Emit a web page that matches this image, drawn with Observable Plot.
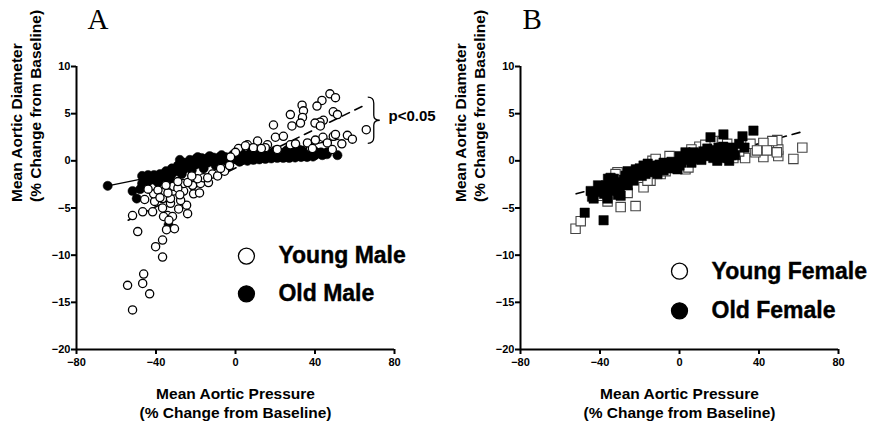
<!DOCTYPE html>
<html>
<head>
<meta charset="utf-8">
<script src="https://cdn.jsdelivr.net/npm/d3@7"></script>
<script src="https://cdn.jsdelivr.net/npm/@observablehq/plot@0.6"></script>
<style>
  html, body { margin: 0; padding: 0; background: #fff; }
  #wrap { display: flex; width: 880px; height: 425px; }
  #wrap svg { display: block; }
</style>
</head>
<body>
<div id="wrap"></div>
<script>
// ---------- data (x: % change MAP, y: % change diameter) ----------
const xTicks = [-80, -40, 0, 40, 80];
const yTicks = [-20, -15, -10, -5, 0, 5, 10];

const youngMale = [
  [65.8,3.3],[47.5,7.1],[50.3,6.7],[43.5,6.4],[41,5.8],[33.5,5.9],[34.2,5.3],[27.6,4.9],[33.7,4.6],[32.7,4.0],
  [28.4,3.7],[19.1,3.8],[49.2,5.2],[51.3,4.9],[44.2,4.3],[42.5,4.1],[40,4.0],[42.7,3.7],[56.3,2.7],[58.8,2.3],
  [49.2,2.6],[44,2.5],[40.2,2.2],[53.5,1.8],[20.1,2.5],[24.1,2.6],[27.6,1.7],[16.1,1.7],[11.1,2.1],[6,1.7],
  [1.5,1.3],[46.2,1.9],[37.7,1.4],[48.7,1.2],[30.2,1.8],[36.2,1.9],[38.7,1.3],[50.3,2.8],[15,1.4],[5,1.6],
  [9,1.4],[0,0.9],[-2.5,0.4],[21,1.2],[13,1.3],
  [-51.8,-15.8],[-54.3,-13.2],[-46.7,-13.0],[-43.2,-14.1],[-46.2,-12.0],[-36.7,-10.2],[-40.2,-9.1],[-36.7,-8.4],
  [-49.2,-7.5],[-51.8,-5.8],[-34.7,-7.3],[-30.7,-7.2],[-34.2,-5.8],[-31.7,-5.9],[-36.2,-5.9],[-33.5,-6.3],
  [-24.1,-5.6],[-24.6,-4.7],[-28.6,-5.1],[-32.7,-4.5],[-36.7,-5.0],[-41.7,-5.4],[-46.7,-5.4],[-45.7,-4.1],
  [-40.7,-4.3],[-36.7,-4.0],[-32.7,-4.0],[-27.6,-4.2],[-36.7,-3.3],[-31.2,-3.2],[-26.1,-3.2],[-21.1,-3.5],
  [-18.1,-3.4],[-21.6,-2.6],[-26.1,-2.4],[-17.6,-2.4],[-16.1,-1.8],[-11.6,-1.4],[-9,-1.6],[-5.5,-1.1],
  [-13.6,-2.3],[-31.2,-2.7],[-41.2,-3.5],[-19.1,-1.9],[-44,-3.0],[-39,-3.1],[-34,-3.4],[-29,-2.9],[-24,-2.3],
  [-28,-3.6],[-38,-3.9],[-14,-1.8],[-7.5,-0.8],[-3,-0.5],[-22,-1.6],[-29,-2.2],[-35,-2.6]
];

const oldMale = [
  [-64.3,-2.65],[-51.8,-3.2],[-49.7,-4.0],[-33.7,-6.8],
  [-47,-1.6],[-47,-2.4],[-45.5,-2.0],[-44,-1.5],[-44,-2.2],[-42.5,-1.8],[-41,-1.5],[-41,-2.0],[-39.5,-1.7],
  [-38,-1.4],[-38,-1.9],[-36.5,-1.5],[-35,-1.1],[-35,-1.7],[-33.5,-1.3],[-32,-0.8],[-32,-1.4],[-30.5,-1.0],
  [-29,-0.5],[-29,-1.1],[-27.5,-0.7],[-26,-0.2],[-26,-0.9],[-24.5,-0.4],[-23,0.1],[-23,-0.6],[-21.5,-0.2],
  [-20,0.2],[-20,-0.4],[-18.5,0.0],[-17,0.3],[-17,-0.3],[-15.5,0.0],[-14,0.3],[-14,-0.2],[-12.5,0.1],
  [-11,0.35],[-11,-0.1],[-9.5,0.15],[-8,0.4],[-8,0.0],[-6.5,0.2],[-5,0.4],[-5,0.0],[-3.5,0.2],[-2,0.45],
  [-2,0.05],[-0.5,0.25],[1,0.5],[1,0.1],[2.5,0.3],[4,0.6],[4,0.2],[5.5,0.4],[7,0.7],[7,0.3],[8.5,0.5],
  [10,0.75],[10,0.35],[11.5,0.55],[13,0.8],[13,0.4],[14.5,0.6],[16,0.85],[16,0.4],[17.5,0.65],[19,0.9],
  [19,0.45],[20.5,0.7],[22,0.9],[22,0.5],[23.5,0.7],[25,0.95],[25,0.5],[26.5,0.75],[28,0.95],[28,0.5],
  [29.5,0.75],[31,1.0],[31,0.55],[32.5,0.8],[34,1.0],[34,0.6],[35.5,0.8],[37,1.0],[37,0.6],[38.5,0.8],
  [40,1.0],[40,0.6],[41.5,0.8],[43,0.9],[43.7,0.6],[46,0.9],[46,0.7],[51.3,0.6],
  [2,-0.1],[6,0.0],[9,0.1],[12,0.15],[15,0.2],[18,0.25],[21,0.3],[24,0.3],[27,0.3],[30,0.35],[33,0.4],
  [36,0.4],[39,0.45],[3,0.8],[8,0.95],[14,1.05],[20,1.1],[26,1.15],[32,1.2],[-10,-0.5],[-16,-0.8],
  [-22,-1.0],[-27,-1.4],[-33,-1.9],[-39,-2.3],[-45,-2.7],[-48,-3.0],[-28,0.1],[-19,0.4],[-13,0.5],
  [-7,0.6],[-1,0.7]
];

const youngFemale = [
  [-52.3,-7.2],[-49.7,-6.4],[-29.6,-4.9],[-22.1,-4.8],[-18.1,-2.8],[-36.2,-4.3],[-31.2,-1.2],[-13.6,0.0],
  [-12,0.2],[3,-0.9],[-14.6,-2.1],[-16.1,-2.1],[-26.1,-3.4],[-37.2,-2.8],[-32.2,-1.4],[-9.5,-1.4],[4.5,-0.7],
  [-20,-1.3],[-41,-3.7],[-7,-1.1],[-5,0.5],
  [57.3,0.2],[61.8,1.4],[49.7,0.5],[49.7,1.2],[49.2,2.2],[46.7,2.1],[42.2,1.9],[42.2,0.4],[38.2,0.9],
  [33,0.3],[35.7,1.8],[27.1,0.3],[16.6,2.1],[21.6,2.1],[30,1.0],[39,1.1],[44,1.1],[49,0.9],[10,1.5],
  [13,1.7],[6,1.2],[24,1.8]
];

const oldFemale = [
  [-47.7,-5.5],[-38.2,-6.3],[-44.7,-3.2],[-43.2,-4.0],[-36.2,-4.0],[-34.7,-1.8],[-29.6,-3.7],[-29.6,-2.3],
  [-32.2,-2.3],[-26.1,-1.1],[-18.1,-0.5],[-23.1,-2.1],[-13.1,-0.5],[-11.1,-1.4],[-8.0,-0.2],[-1.0,-0.9],
  [0,0.5],[4,0.7],[7,0.9],[10.5,0.3],[15.6,2.5],[22.1,2.8],[31.7,2.6],[37.2,3.2],[32.7,1.4],[19.6,1.4],
  [25.6,1.4],[24.6,0.3],[21.6,0.3],[14.1,0.5],[-27.1,-1.6],[-17.1,-1.4],[-9.5,-0.7],
  [-40,-3.2],[-37,-2.6],[-34,-2.8],[-33,-1.9],[-30,-2.9],[-27,-1.6],[-26,-2.6],[-24,-1.2],[-21,-1.4],
  [-20,-0.8],[-17,-1.0],[-15,-0.6],[-14,-1.2],[-10,-0.4],[-6,-0.3],[-4,-0.1],[-3,-0.6],[1,-0.2],
  [2,0.3],[5,0.1],[6,0.4],[8,0.2],[9,0.8],[12,0.6],[12,1.0],[16,0.9],[17,0.3],[18,1.1],[20,0.8],[23,1.0],
  [26,0.6],[27,1.1],[-42,-3.3],[-31,-3.6],[-36,-1.9],
  [-38,-3.5],[-35,-3.2],[-32,-3.0],[-28,-2.0],[-25,-1.8],[-22,-0.9],[-19,-1.6],[-16,-0.3],[-12,-0.9],
  [-8,-1.0],[-5,-0.8],[-2,-0.3],[0,-0.5],[3,0.9],[6,-0.2],[11,0.1],[14,1.3],[19,0.0],[22,1.5],[25,0.0],
  [28,0.6],[30,1.8],[-44,-3.8],[-41,-2.6]
];

// regression fit lines (end points)
const fitYoungMale = [[-54,-6.3],[65,5.9]];
const fitOldMale = [[-64.3,-2.65],[52,2.3]];
const fitYoungFemale = [[-52,-3.5],[62,3.1]];

const panelLabels = ["A", "B"];
const legendA = ["Young Male", "Old Male"];
const legendB = ["Young Female", "Old Female"];
const xTitle = "Mean Aortic Pressure\n(% Change from Baseline)";
const yTitle = "Mean Aortic Diameter\n(% Change from Baseline)";
const sigLabel = "p<0.05";

// ---------- drawing ----------
const SANS = "'Liberation Sans', Arial, Helvetica, sans-serif";
const SERIF = "'Liberation Serif', 'Times New Roman', serif";
const toObj = (arr) => arr.map(([x, y]) => ({x, y}));

function panel({label, marginLeft, marginRight, legend, legendPos, points, extra}) {
  const legendData = legend.map((t, i) => ({t, x: legendPos.x, y: legendPos.y[i], filled: i === 1}));
  return Plot.plot({
    width: 440, height: 425,
    marginLeft, marginRight, marginTop: 66, marginBottom: 76,
    x: {domain: [-80, 80]},
    y: {domain: [-20, 10]},
    style: {fontFamily: SANS, background: "white", color: "black"},
    marks: [
      Plot.axisX({ticks: xTicks, tickSize: 5, tickPadding: 4, strokeWidth: 2, fontSize: 11, fontWeight: "bold", label: null}),
      Plot.axisY({ticks: yTicks, tickSize: 5, tickPadding: 1, strokeWidth: 2, fontSize: 11, fontWeight: "bold", label: null}),
      Plot.ruleX([-80], {y1: -20, y2: 10, strokeWidth: 2}),
      Plot.ruleY([-20], {x1: -80, x2: 80, strokeWidth: 2}),
      ...points,
      ...extra,
      // legend
      Plot.dot(legendData, {x: "x", y: "y", r: 8, stroke: "black", strokeWidth: 1.3,
        fill: d => d.filled ? "black" : "white"}),
      Plot.text(legendData, {x: "x", y: "y", text: "t", dx: 32, textAnchor: "start",
        fontSize: 23, fontWeight: "bold", fill: "black", stroke: "black", strokeWidth: 0.4}),
      // axis titles
      Plot.text([xTitle], {frameAnchor: "bottom", dy: 53, lineAnchor: "middle", lineHeight: 1.25,
        fontSize: 15.5, fontWeight: "bold", fill: "black"}),
      Plot.text([yTitle], {frameAnchor: "left", dx: -51, dy: -6, rotate: -90, lineAnchor: "middle",
        lineHeight: 1.2, fontSize: 15.5, fontWeight: "bold", fill: "black"}),
      // panel letter
      Plot.text([label], {frameAnchor: "top-left", dx: label === "A" ? 11 : 2, dy: -38, textAnchor: "start",
        lineAnchor: "bottom", fontSize: 29, fontFamily: SERIF, fill: "black"})
    ]
  });
}

// brace annotation for panel A
const braceX = 66.8, braceTop = 6.7, braceBottom = 1.8;
function braceMark(index, scales) {
  const x0 = scales.x(braceX), yt = scales.y(braceTop), yb = scales.y(braceBottom);
  const ym = (yt + yb) / 2, w = 6;
  const d = `M${x0},${yt} Q${x0 + w},${yt} ${x0 + w},${yt + 6} L${x0 + w},${ym - 5} ` +
            `Q${x0 + w},${ym} ${x0 + 2 * w},${ym} Q${x0 + w},${ym} ${x0 + w},${ym + 5} ` +
            `L${x0 + w},${yb - 6} Q${x0 + w},${yb} ${x0},${yb}`;
  const p = d3.create("svg:path").attr("d", d).attr("fill", "none")
    .attr("stroke", "black").attr("stroke-width", 1.3);
  return p.node();
}

const pA = panel({
  label: panelLabels[0], marginLeft: 76, marginRight: 46, legend: legendA,
  legendPos: {x: 5.5, y: [-10.1, -14.1]},
  points: [
    Plot.line(toObj(fitYoungMale), {x: "x", y: "y", stroke: "black", strokeWidth: 1.6, strokeDasharray: "8,6"}),
    Plot.line(toObj(fitOldMale), {x: "x", y: "y", stroke: "black", strokeWidth: 1.4}),
    Plot.dot(toObj(oldMale), {x: "x", y: "y", r: 4.6, fill: "black", stroke: "black", strokeWidth: 0.5}),
    Plot.dot(toObj(youngMale), {x: "x", y: "y", r: 4.1, fill: "white", stroke: "black", strokeWidth: 1.3})
  ],
  extra: [
    braceMark,
    Plot.text([sigLabel], {x: 77, y: 4.77, textAnchor: "start", fontSize: 15, fontWeight: "bold", fill: "black"})
  ]
});

const pB = panel({
  label: panelLabels[1], marginLeft: 80, marginRight: 42, legend: legendB,
  legendPos: {x: 0, y: [-11.7, -15.9]},
  points: [
    Plot.line(toObj(fitYoungFemale), {x: "x", y: "y", stroke: "black", strokeWidth: 1.6, strokeDasharray: "8,6"}),
    Plot.dot(toObj(youngFemale), {x: "x", y: "y", symbol: "square", r: 5.3, fill: "white", stroke: "#444", strokeWidth: 1.1}),
    Plot.dot(toObj(oldFemale), {x: "x", y: "y", symbol: "square", r: 5.3, fill: "black", stroke: "black", strokeWidth: 0.5})
  ],
  extra: []
});

document.getElementById("wrap").append(pA, pB);
</script>
</body>
</html>
